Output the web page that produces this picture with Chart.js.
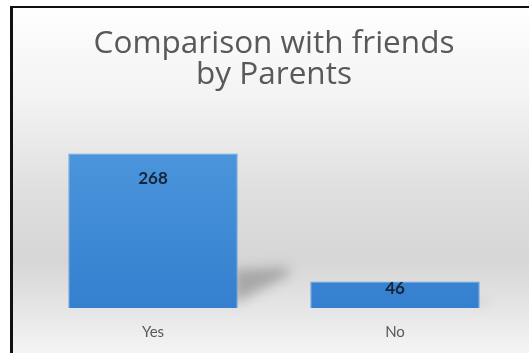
<!DOCTYPE html>
<html>
<head>
<meta charset="utf-8">
<script src="https://cdn.jsdelivr.net/npm/chart.js@4.4.0/dist/chart.umd.min.js"></script>
<style>
  html, body { margin: 0; padding: 0; background: #fff; overflow: hidden; }
  #frame {
    position: absolute; left: 10px; top: 6px; width: 530px; height: 360px;
    border-left: 3px solid #111; border-top: 2px solid #111;
    background: linear-gradient(to bottom, #fefefe 0%, #f3f3f3 25%, #dedede 52%, #d6d6d6 70%, #e6e6e6 84%, #fafafa 100%);
  }
  #wrap { position: absolute; left: 0; top: 0; width: 529px; height: 353px; }
</style>
</head>
<body>
<div id="frame"></div>
<div id="wrap"><canvas id="chart"></canvas></div>
<script>
// chart data
const categories = ['Yes', 'No'];
const counts = [268, 46];
const titleLines = ['Comparison with friends', 'by Parents'];

// soft perspective shadow behind each bar
const barShadow = {
  id: 'barShadow',
  beforeDatasetsDraw(chart) {
    const ctx = chart.ctx;
    chart.getDatasetMeta(0).data.forEach(bar => {
      const right = bar.x + bar.width / 2;
      const h = bar.base - bar.y;
      const s = h * 0.25;
      ctx.save();
      ctx.filter = 'blur(6px)';
      ctx.fillStyle = 'rgba(70,70,70,0.35)';
      ctx.beginPath();
      ctx.moveTo(right - 4, bar.base - 4);
      ctx.lineTo(right - 4, bar.base - s);
      ctx.lineTo(right + s * 1.2, bar.base - s * 1.05);
      ctx.lineTo(right + s * 1.4, bar.base - s * 0.9);
      ctx.closePath();
      ctx.fill();
      ctx.restore();
    });
  }
};

// value labels inside the bar top
const valueLabels = {
  id: 'valueLabels',
  afterDatasetsDraw(chart) {
    const ctx = chart.ctx;
    ctx.save();
    ctx.font = 'bold 17px Lato';
    ctx.fillStyle = '#15243a';
    ctx.textAlign = 'center';
    ctx.textBaseline = 'middle';
    chart.getDatasetMeta(0).data.forEach((bar, i) => {
      const h = bar.base - bar.y;
      ctx.fillText(counts[i], bar.x, bar.y + Math.min(25, h * 0.27));
    });
    ctx.restore();
  }
};

const ctx = document.getElementById('chart');

new Chart(ctx, {
  type: 'bar',
  data: {
    labels: categories,
    datasets: [{
      data: counts,
      backgroundColor: c => {
        const area = c.chart.chartArea;
        if (!area) return '#3f88d5';
        const g = c.chart.ctx.createLinearGradient(0, area.top, 0, area.bottom);
        g.addColorStop(0, '#4e97dd');
        g.addColorStop(1, '#3480cf');
        return g;
      },
      borderColor: '#5c9fe0',
      borderWidth: 1,
      barPercentage: 0.7,
      categoryPercentage: 1
    }]
  },
  options: {
    responsive: true,
    maintainAspectRatio: false,
    animation: false,
    layout: { padding: { left: 32, right: 13, top: 0, bottom: -3 } },
    plugins: {
      legend: { display: false },
      tooltip: { enabled: false },
      title: {
        display: true,
        text: titleLines,
        color: '#595959',
        font: { family: 'Open Sans', size: 31.5, weight: 'normal', lineHeight: 0.97 },
        padding: { top: 29, bottom: 45 }
      }
    },
    scales: {
      x: {
        grid: { display: false, drawTicks: false },
        border: { display: false },
        ticks: { color: '#595959', font: { family: 'Lato', size: 15 }, padding: 15 }
      },
      y: {
        display: false,
        min: 0,
        max: 300
      }
    }
  },
  plugins: [barShadow, valueLabels]
});
</script>
</body>
</html>
